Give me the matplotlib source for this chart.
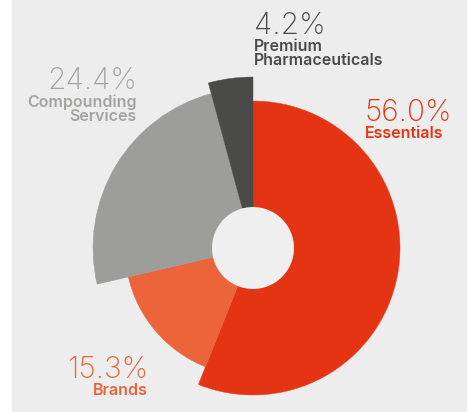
import numpy as np
import matplotlib
matplotlib.use("Agg")
from matplotlib import pyplot as plt
from matplotlib.patches import Wedge, Circle, Rectangle

# data
segments = ["Essentials", "Brands", "Compounding\nServices", "Premium\nPharmaceuticals"]
shares = [56.0, 15.3, 24.4, 4.2]

# styling
colors = ["#e53413", "#eb643a", "#9d9d9b", "#4a4a48"]
label_colors = ["#e53413", "#eb643a", "#a3a3a1", "#4a4a48"]
radii = [147, 128, 160, 171]
hole_r = 41
center = (253, 412 - 248)
bg = "#ededed"

W, H = 477, 412
fig = plt.figure(figsize=(W / 100, H / 100), dpi=100, facecolor="white")
ax = fig.add_axes([0, 0, 1, 1])
ax.set_xlim(0, W)
ax.set_ylim(0, H)
ax.set_aspect("equal")
ax.axis("off")

ax.add_patch(Rectangle((12, 1), 454, H, color=bg, zorder=0))

# slices go clockwise from 12 o'clock
fracs = np.array(shares) / np.sum(shares)
start = 90.0
for frac, r, c in zip(fracs, radii, colors):
    end = start - 360 * frac
    ax.add_patch(Wedge(center, r, end, start, facecolor=c, edgecolor=c, lw=0.3, zorder=2))
    start = end

ax.add_patch(Circle(center, hole_r, facecolor="#efefef", edgecolor="none", zorder=3))

# labels: (x, baseline of pct, align)
label_pos = [
    (365, 121, "left"),
    (148, 378, "right"),
    (137, 89, "right"),
    (254, 34, "left"),
]
for name, val, (x, yb, ha), c in zip(segments, shares, label_pos, label_colors):
    ax.text(x, H - yb, f"{val:.1f}%", ha=ha, va="baseline", color=c,
            fontsize=21.5, family="Inter", fontweight="light", zorder=4)
    ax.text(x, H - yb - 5, name, ha=ha, va="top", color=c,
            fontsize=11.5, family="Inter", fontweight="semibold",
            linespacing=0.95, zorder=4)

fig.savefig("out.png", dpi=100, facecolor="white")
